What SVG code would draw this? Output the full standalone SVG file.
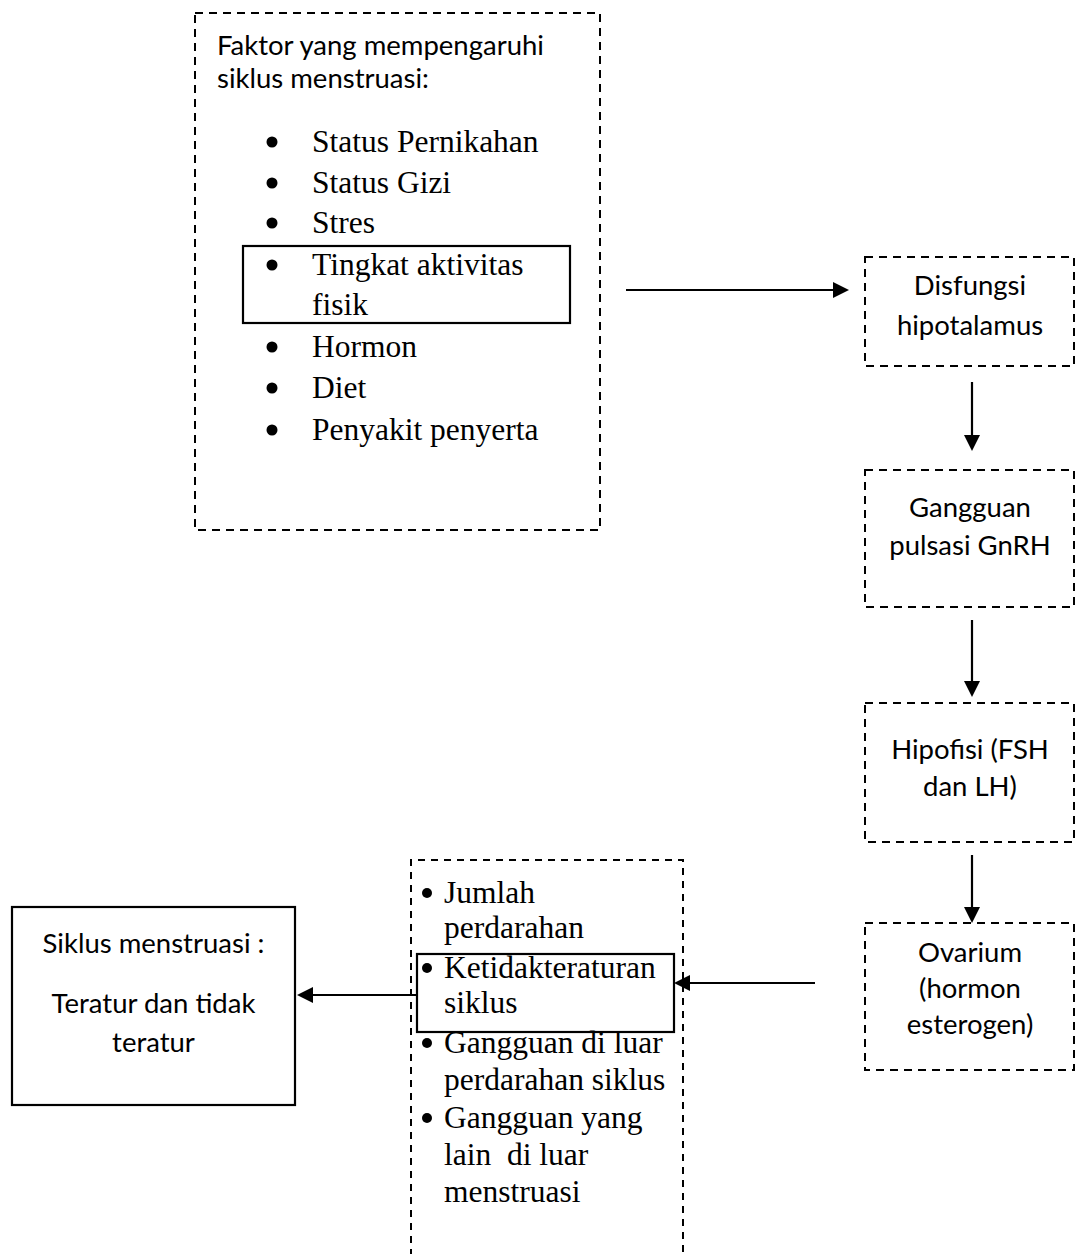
<svg xmlns="http://www.w3.org/2000/svg" width="1076" height="1254" viewBox="0 0 1076 1254">
<style>
.dash{fill:none;stroke:#000;stroke-width:2;stroke-dasharray:8 6}
.dash2{fill:none;stroke:#000;stroke-width:2;stroke-dasharray:7 6}
.solid{fill:none;stroke:#000;stroke-width:2.2}
.sans{font-family:Lato,"Open Sans",sans-serif;font-size:27.5px;fill:#000}
.mid{text-anchor:middle}
.serif{font-family:"Liberation Serif","Times New Roman",serif;font-size:31.5px;fill:#000}
.conn{stroke:#000;stroke-width:2.2;fill:none;marker-end:url(#ah)}
</style>
<defs>
<marker id="ah" markerUnits="userSpaceOnUse" markerWidth="16" markerHeight="16" refX="0" refY="8" orient="auto">
<path d="M0,0 L16,8 L0,16 z" fill="#000"/>
</marker>
</defs>
<rect width="1076" height="1254" fill="#fff"/>
<g id="faktor">
<rect class="dash" x="195" y="13" width="405" height="517"/>
<text class="sans" x="217" y="55">Faktor yang mempengaruhi</text>
<text class="sans" x="217" y="88">siklus menstruasi:</text>
<g fill="#000">
<circle cx="272" cy="142" r="5.5"/><circle cx="272" cy="183" r="5.5"/><circle cx="272" cy="223" r="5.5"/><circle cx="272" cy="265" r="5.5"/>
<circle cx="272" cy="347" r="5.5"/><circle cx="272" cy="388" r="5.5"/><circle cx="272" cy="430" r="5.5"/>
</g>
<text class="serif" x="312" y="152">Status Pernikahan</text>
<text class="serif" x="312" y="193">Status Gizi</text>
<text class="serif" x="312" y="233">Stres</text>
<text class="serif" x="312" y="275">Tingkat aktivitas</text>
<text class="serif" x="312" y="315">fisik</text>
<text class="serif" x="312" y="357">Hormon</text>
<text class="serif" x="312" y="398">Diet</text>
<text class="serif" x="312" y="440">Penyakit penyerta</text>
<rect class="solid" x="243" y="246" width="327" height="77"/>
</g>
<g id="disfungsi">
<rect class="dash" x="865" y="257" width="209" height="109"/>
<text class="sans mid" x="970" y="295">Disfungsi</text>
<text class="sans mid" x="970" y="335">hipotalamus</text>
</g>
<g id="gangguan">
<rect class="dash" x="865" y="470" width="209" height="137"/>
<text class="sans mid" x="970" y="517">Gangguan</text>
<text class="sans mid" x="970" y="555">pulsasi GnRH</text>
</g>
<g id="hipofisi">
<rect class="dash" x="865" y="703" width="209" height="139"/>
<text class="sans mid" x="970" y="759">Hipofisi (FSH</text>
<text class="sans mid" x="970" y="796">dan LH)</text>
</g>
<g id="ovarium">
<rect class="dash" x="865" y="923" width="209" height="147"/>
<text class="sans mid" x="970" y="962">Ovarium</text>
<text class="sans mid" x="970" y="998">(hormon</text>
<text class="sans mid" x="970" y="1034">esterogen)</text>
</g>
<g id="gangguan-list">
<path class="dash2" d="M411,1256 V860 H683 V1256"/>
<g fill="#000">
<circle cx="427" cy="893" r="5"/><circle cx="427" cy="968" r="5"/><circle cx="427" cy="1043" r="5"/><circle cx="427" cy="1118" r="5"/>
</g>
<text class="serif" x="444" y="903">Jumlah</text>
<text class="serif" x="444" y="938">perdarahan</text>
<text class="serif" x="444" y="978">Ketidakteraturan</text>
<text class="serif" x="444" y="1013">siklus</text>
<text class="serif" x="444" y="1053">Gangguan di luar</text>
<text class="serif" x="444" y="1090">perdarahan siklus</text>
<text class="serif" x="444" y="1128">Gangguan yang</text>
<text class="serif" x="444" y="1165" xml:space="preserve">lain  di luar</text>
<text class="serif" x="444" y="1202">menstruasi</text>
<rect class="solid" x="417" y="954" width="257" height="78"/>
</g>
<g id="siklus">
<rect class="solid" x="12" y="907" width="283" height="198"/>
<text class="sans mid" x="153.5" y="953">Siklus menstruasi :</text>
<text class="sans mid" x="153.5" y="1013">Teratur dan tidak</text>
<text class="sans mid" x="153.5" y="1052">teratur</text>
</g>
<g id="connectors">
<line class="conn" x1="626" y1="290" x2="833" y2="290"/>
<line class="conn" x1="972" y1="382" x2="972" y2="435"/>
<line class="conn" x1="972" y1="620" x2="972" y2="681"/>
<line class="conn" x1="972" y1="855" x2="972" y2="907"/>
<line class="conn" x1="815" y1="983" x2="690" y2="983"/>
<line class="conn" x1="417" y1="995" x2="313" y2="995"/>
</g>
</svg>
